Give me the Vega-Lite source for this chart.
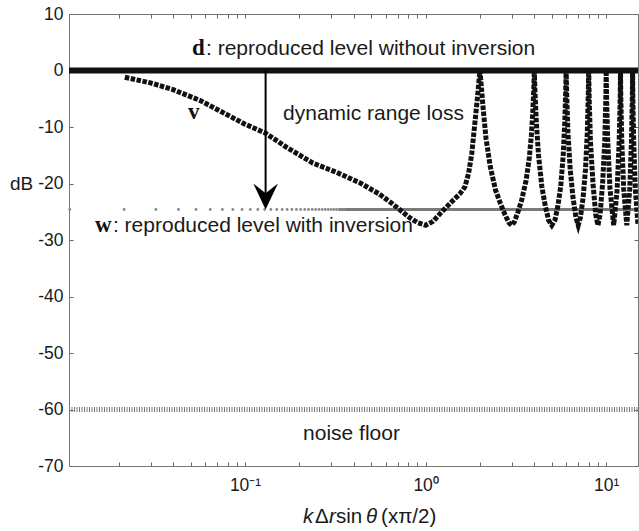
{
  "$schema": "https://vega.github.io/schema/vega-lite/v6.json",
  "width": 569,
  "height": 452,
  "autosize": {"type": "none"},
  "padding": {"left": 69, "top": 14, "right": 1, "bottom": 65},
  "background": "white",
  "config": {
    "view": {"stroke": null},
    "axis": {"domainColor": "#777", "tickColor": "#666", "labelColor": "#1a1a1a", "labelFont": "Liberation Sans", "labelFontSize": 17.5, "grid": false}
  },
  "datasets": {
    "d": [{"x": 0.0106, "y": 0}, {"x": 15, "y": 0}],
    "noise": [{"x": 0.0106, "y": -60}, {"x": 15, "y": -60}],
    "wline": [{"x": 0.33, "y": -24.6}, {"x": 15, "y": -24.6}],
    "wdots": [
      {"x": 0.0107, "y": -24.6}, {"x": 0.0214, "y": -24.6}, {"x": 0.0321, "y": -24.6}, {"x": 0.0428, "y": -24.6}, {"x": 0.0535, "y": -24.6},
      {"x": 0.0642, "y": -24.6}, {"x": 0.0749, "y": -24.6}, {"x": 0.0856, "y": -24.6}, {"x": 0.0963, "y": -24.6}, {"x": 0.107, "y": -24.6},
      {"x": 0.1177, "y": -24.6}, {"x": 0.1284, "y": -24.6}, {"x": 0.1391, "y": -24.6}, {"x": 0.1498, "y": -24.6}, {"x": 0.1605, "y": -24.6},
      {"x": 0.1712, "y": -24.6}, {"x": 0.1819, "y": -24.6}, {"x": 0.1926, "y": -24.6}, {"x": 0.2033, "y": -24.6}, {"x": 0.214, "y": -24.6},
      {"x": 0.2247, "y": -24.6}, {"x": 0.2354, "y": -24.6}, {"x": 0.2461, "y": -24.6}, {"x": 0.2568, "y": -24.6}, {"x": 0.2675, "y": -24.6},
      {"x": 0.2782, "y": -24.6}, {"x": 0.2889, "y": -24.6}, {"x": 0.2996, "y": -24.6}, {"x": 0.3103, "y": -24.6}, {"x": 0.321, "y": -24.6},
      {"x": 0.3317, "y": -24.6}, {"x": 0.3424, "y": -24.6}, {"x": 0.3531, "y": -24.6}
    ],
    "v": [
      {"x": 0.0216, "y": -1.2}, {"x": 0.03, "y": -2.2}, {"x": 0.04, "y": -3.4}, {"x": 0.0564, "y": -5.3}, {"x": 0.075, "y": -7.4},
      {"x": 0.1, "y": -9.5}, {"x": 0.13, "y": -11.1}, {"x": 0.17, "y": -13.6}, {"x": 0.238, "y": -16.4}, {"x": 0.32, "y": -18},
      {"x": 0.434, "y": -19.9}, {"x": 0.55, "y": -21.8}, {"x": 0.65, "y": -23.5}, {"x": 0.723, "y": -24.7}, {"x": 0.82, "y": -26.1},
      {"x": 0.9, "y": -26.9}, {"x": 1.0, "y": -27.4},
      {"x": 1.1, "y": -26.7}, {"x": 1.23, "y": -25.0}, {"x": 1.4, "y": -23.2}, {"x": 1.55, "y": -21.8}, {"x": 1.65, "y": -20.6},
      {"x": 1.73, "y": -18.2}, {"x": 1.8, "y": -14.8}, {"x": 1.87, "y": -9.6}, {"x": 1.93, "y": -5.3}, {"x": 1.97, "y": -2.2},
      {"x": 2.0, "y": 0},
      {"x": 2.03, "y": -2.4}, {"x": 2.08, "y": -6.5}, {"x": 2.16, "y": -12}, {"x": 2.28, "y": -17}, {"x": 2.44, "y": -21.2},
      {"x": 2.6, "y": -23.6}, {"x": 2.75, "y": -25.5}, {"x": 2.9, "y": -27}, {"x": 3.0, "y": -27.4},
      {"x": 3.1, "y": -26.8}, {"x": 3.25, "y": -25}, {"x": 3.4, "y": -23}, {"x": 3.6, "y": -19.5}, {"x": 3.75, "y": -15.5},
      {"x": 3.85, "y": -11.5}, {"x": 3.92, "y": -7.5}, {"x": 3.97, "y": -3.5}, {"x": 4.0, "y": 0},
      {"x": 4.03, "y": -3.5}, {"x": 4.1, "y": -9}, {"x": 4.22, "y": -15}, {"x": 4.4, "y": -20.5}, {"x": 4.6, "y": -24},
      {"x": 4.8, "y": -26.5}, {"x": 5.0, "y": -27.4}, {"x": 5.2, "y": -26.5}, {"x": 5.4, "y": -24}, {"x": 5.6, "y": -20.5},
      {"x": 5.78, "y": -15}, {"x": 5.9, "y": -9}, {"x": 5.97, "y": -3.5}, {"x": 6.0, "y": 0},
      {"x": 6.04, "y": -4}, {"x": 6.14, "y": -11}, {"x": 6.32, "y": -17.5}, {"x": 6.55, "y": -22.5}, {"x": 6.8, "y": -26},
      {"x": 7.0, "y": -27.4}, {"x": 7.2, "y": -26}, {"x": 7.45, "y": -22.5}, {"x": 7.68, "y": -17.5}, {"x": 7.86, "y": -11},
      {"x": 7.96, "y": -4}, {"x": 8.0, "y": 0},
      {"x": 8.05, "y": -5}, {"x": 8.18, "y": -12.5}, {"x": 8.45, "y": -20}, {"x": 8.75, "y": -25.5}, {"x": 9.0, "y": -27.4},
      {"x": 9.25, "y": -25.5}, {"x": 9.55, "y": -20}, {"x": 9.82, "y": -12.5}, {"x": 9.95, "y": -5}, {"x": 10.0, "y": 0},
      {"x": 10.05, "y": -5}, {"x": 10.2, "y": -12.5}, {"x": 10.5, "y": -21}, {"x": 11.0, "y": -27.4}, {"x": 11.5, "y": -21},
      {"x": 11.8, "y": -12.5}, {"x": 11.95, "y": -5}, {"x": 12.0, "y": 0},
      {"x": 12.05, "y": -5}, {"x": 12.2, "y": -12.5}, {"x": 12.5, "y": -21}, {"x": 13.0, "y": -27.4}, {"x": 13.5, "y": -21},
      {"x": 13.8, "y": -12.5}, {"x": 13.95, "y": -5}, {"x": 14.0, "y": 0},
      {"x": 14.05, "y": -5}, {"x": 14.2, "y": -12.5}, {"x": 14.5, "y": -21}, {"x": 15.0, "y": -27.4}
    ],
    "arrow": [{"x": 0.13, "y": 0, "y2": -23.5}],
    "head": [{"x": 0.13, "y": -24.6}],
    "boldserif": [{"x": 0.0509, "y": 2.83, "t": "d"}, {"x": 0.0483, "y": -8.55, "t": "v"}, {"x": 0.01476, "y": -28.58, "t": "w"}],
    "sans": [
      {"x": 0.0608, "y": 2.83, "t": ": reproduced level without inversion"},
      {"x": 0.01856, "y": -28.58, "t": ": reproduced level with inversion"},
      {"x": 0.1624, "y": -8.84, "t": "dynamic range loss"},
      {"x": 0.2096, "y": -65.4, "t": "noise floor"}
    ],
    "ylab": [{"x": 0.00499, "y": -20, "t": "dB"}],
    "titleItalic": [{"x": 0.2096, "y": -80.08, "t": "k"}, {"x": 0.292, "y": -80.08, "t": "r"}, {"x": 0.4682, "y": -80.08, "t": "θ"}],
    "titleRegular": [{"x": 0.2443, "y": -80.08, "t": "Δ"}, {"x": 0.3192, "y": -80.08, "t": "sin"}, {"x": 0.5669, "y": -80.08, "t": "(xπ/2)"}]
  },
  "resolve": {"axis": {"x": "independent", "y": "independent"}},
  "layer": [
    {
      "data": {"name": "noise"},
      "mark": {"type": "line", "color": "#777", "strokeWidth": 5, "strokeDash": [1, 1.5]},
      "encoding": {
        "x": {"field": "x", "type": "quantitative", "scale": {"type": "log", "domain": [0.0106, 15], "nice": false},
          "axis": {"orient": "bottom", "title": null, "values": [0.02, 0.03, 0.04, 0.05, 0.06, 0.07, 0.08, 0.09, 0.1, 0.2, 0.3, 0.4, 0.5, 0.6, 0.7, 0.8, 0.9, 1, 2, 3, 4, 5, 6, 7, 8, 9, 10],
            "labelExpr": "datum.value == 0.1 ? '10⁻¹' : datum.value == 1 ? '10⁰' : datum.value == 10 ? '10¹' : ''",
            "tickSize": -4, "labelPadding": 14, "labelFlush": false, "labelOverlap": false}},
        "y": {"field": "y", "type": "quantitative", "scale": {"domain": [-70, 10], "nice": false},
          "axis": {"orient": "left", "title": null, "values": [-70, -60, -50, -40, -30, -20, -10, 0, 10], "tickSize": -4, "labelPadding": 10,
            "labelExpr": "datum.value < 0 ? '-' + abs(datum.value) : '' + datum.value"}}
      }
    },
    {
      "data": {"name": "d"},
      "mark": {"type": "line", "color": "#111", "strokeWidth": 6},
      "encoding": {
        "x": {"field": "x", "type": "quantitative", "scale": {"type": "log", "domain": [0.0106, 15], "nice": false},
          "axis": {"orient": "top", "title": null, "labels": false, "values": [0.02, 0.03, 0.04, 0.05, 0.06, 0.07, 0.08, 0.09, 0.1, 0.2, 0.3, 0.4, 0.5, 0.6, 0.7, 0.8, 0.9, 1, 2, 3, 4, 5, 6, 7, 8, 9, 10], "tickSize": -4}},
        "y": {"field": "y", "type": "quantitative", "scale": {"domain": [-70, 10], "nice": false},
          "axis": {"orient": "right", "title": null, "labels": false, "values": [-70, -60, -50, -40, -30, -20, -10, 0, 10], "tickSize": -4}}
      }
    },
    {
      "data": {"name": "wline"},
      "mark": {"type": "line", "color": "#7a7a7a", "strokeWidth": 3},
      "encoding": {
        "x": {"field": "x", "type": "quantitative", "scale": {"type": "log", "domain": [0.0106, 15], "nice": false}, "axis": null},
        "y": {"field": "y", "type": "quantitative", "scale": {"domain": [-70, 10], "nice": false}, "axis": null}
      }
    },
    {
      "data": {"name": "wdots"},
      "mark": {"type": "point", "filled": true, "color": "#8a8a8a", "size": 8, "opacity": 1},
      "encoding": {
        "x": {"field": "x", "type": "quantitative", "scale": {"type": "log", "domain": [0.0106, 15], "nice": false}, "axis": null},
        "y": {"field": "y", "type": "quantitative", "scale": {"domain": [-70, 10], "nice": false}, "axis": null}
      }
    },
    {
      "data": {"name": "v"},
      "mark": {"type": "line", "color": "#111", "strokeWidth": 5, "strokeDash": [4.5, 1.5], "clip": true},
      "encoding": {
        "x": {"field": "x", "type": "quantitative", "scale": {"type": "log", "domain": [0.0106, 15], "nice": false}, "axis": null},
        "y": {"field": "y", "type": "quantitative", "scale": {"domain": [-70, 10], "nice": false}, "axis": null}
      }
    },
    {
      "data": {"name": "arrow"},
      "mark": {"type": "rule", "color": "#000", "strokeWidth": 2},
      "encoding": {
        "x": {"field": "x", "type": "quantitative", "scale": {"type": "log", "domain": [0.0106, 15], "nice": false}, "axis": null},
        "y": {"field": "y", "type": "quantitative", "scale": {"domain": [-70, 10], "nice": false}, "axis": null},
        "y2": {"field": "y2"}
      }
    },
    {
      "data": {"name": "head"},
      "mark": {"type": "point", "filled": true, "color": "#000", "opacity": 1, "size": 676, "shape": "M0,0 L-0.95,-2 L0,-1.25 L0.95,-2 Z"},
      "encoding": {
        "x": {"field": "x", "type": "quantitative", "scale": {"type": "log", "domain": [0.0106, 15], "nice": false}, "axis": null},
        "y": {"field": "y", "type": "quantitative", "scale": {"domain": [-70, 10], "nice": false}, "axis": null}
      }
    },
    {
      "data": {"name": "boldserif"},
      "mark": {"type": "text", "font": "Liberation Serif", "fontWeight": "bold", "fontSize": 23, "align": "left", "baseline": "alphabetic", "color": "#111"},
      "encoding": {
        "x": {"field": "x", "type": "quantitative", "scale": {"type": "log", "domain": [0.0106, 15], "nice": false}, "axis": null},
        "y": {"field": "y", "type": "quantitative", "scale": {"domain": [-70, 10], "nice": false}, "axis": null},
        "text": {"field": "t"}
      }
    },
    {
      "data": {"name": "sans"},
      "mark": {"type": "text", "font": "Liberation Sans", "fontSize": 21, "align": "left", "baseline": "alphabetic", "color": "#1a1a1a"},
      "encoding": {
        "x": {"field": "x", "type": "quantitative", "scale": {"type": "log", "domain": [0.0106, 15], "nice": false}, "axis": null},
        "y": {"field": "y", "type": "quantitative", "scale": {"domain": [-70, 10], "nice": false}, "axis": null},
        "text": {"field": "t"}
      }
    },
    {
      "data": {"name": "ylab"},
      "mark": {"type": "text", "font": "Liberation Sans", "fontSize": 19, "align": "left", "baseline": "middle", "color": "#1a1a1a"},
      "encoding": {
        "x": {"field": "x", "type": "quantitative", "scale": {"type": "log", "domain": [0.0106, 15], "nice": false}, "axis": null},
        "y": {"field": "y", "type": "quantitative", "scale": {"domain": [-70, 10], "nice": false}, "axis": null},
        "text": {"field": "t"}
      }
    },
    {
      "data": {"name": "titleItalic"},
      "mark": {"type": "text", "font": "Liberation Sans", "fontStyle": "italic", "fontSize": 20.5, "align": "left", "baseline": "alphabetic", "color": "#1a1a1a"},
      "encoding": {
        "x": {"field": "x", "type": "quantitative", "scale": {"type": "log", "domain": [0.0106, 15], "nice": false}, "axis": null},
        "y": {"field": "y", "type": "quantitative", "scale": {"domain": [-70, 10], "nice": false}, "axis": null},
        "text": {"field": "t"}
      }
    },
    {
      "data": {"name": "titleRegular"},
      "mark": {"type": "text", "font": "Liberation Sans", "fontSize": 20.5, "align": "left", "baseline": "alphabetic", "color": "#1a1a1a"},
      "encoding": {
        "x": {"field": "x", "type": "quantitative", "scale": {"type": "log", "domain": [0.0106, 15], "nice": false}, "axis": null},
        "y": {"field": "y", "type": "quantitative", "scale": {"domain": [-70, 10], "nice": false}, "axis": null},
        "text": {"field": "t"}
      }
    }
  ]
}
